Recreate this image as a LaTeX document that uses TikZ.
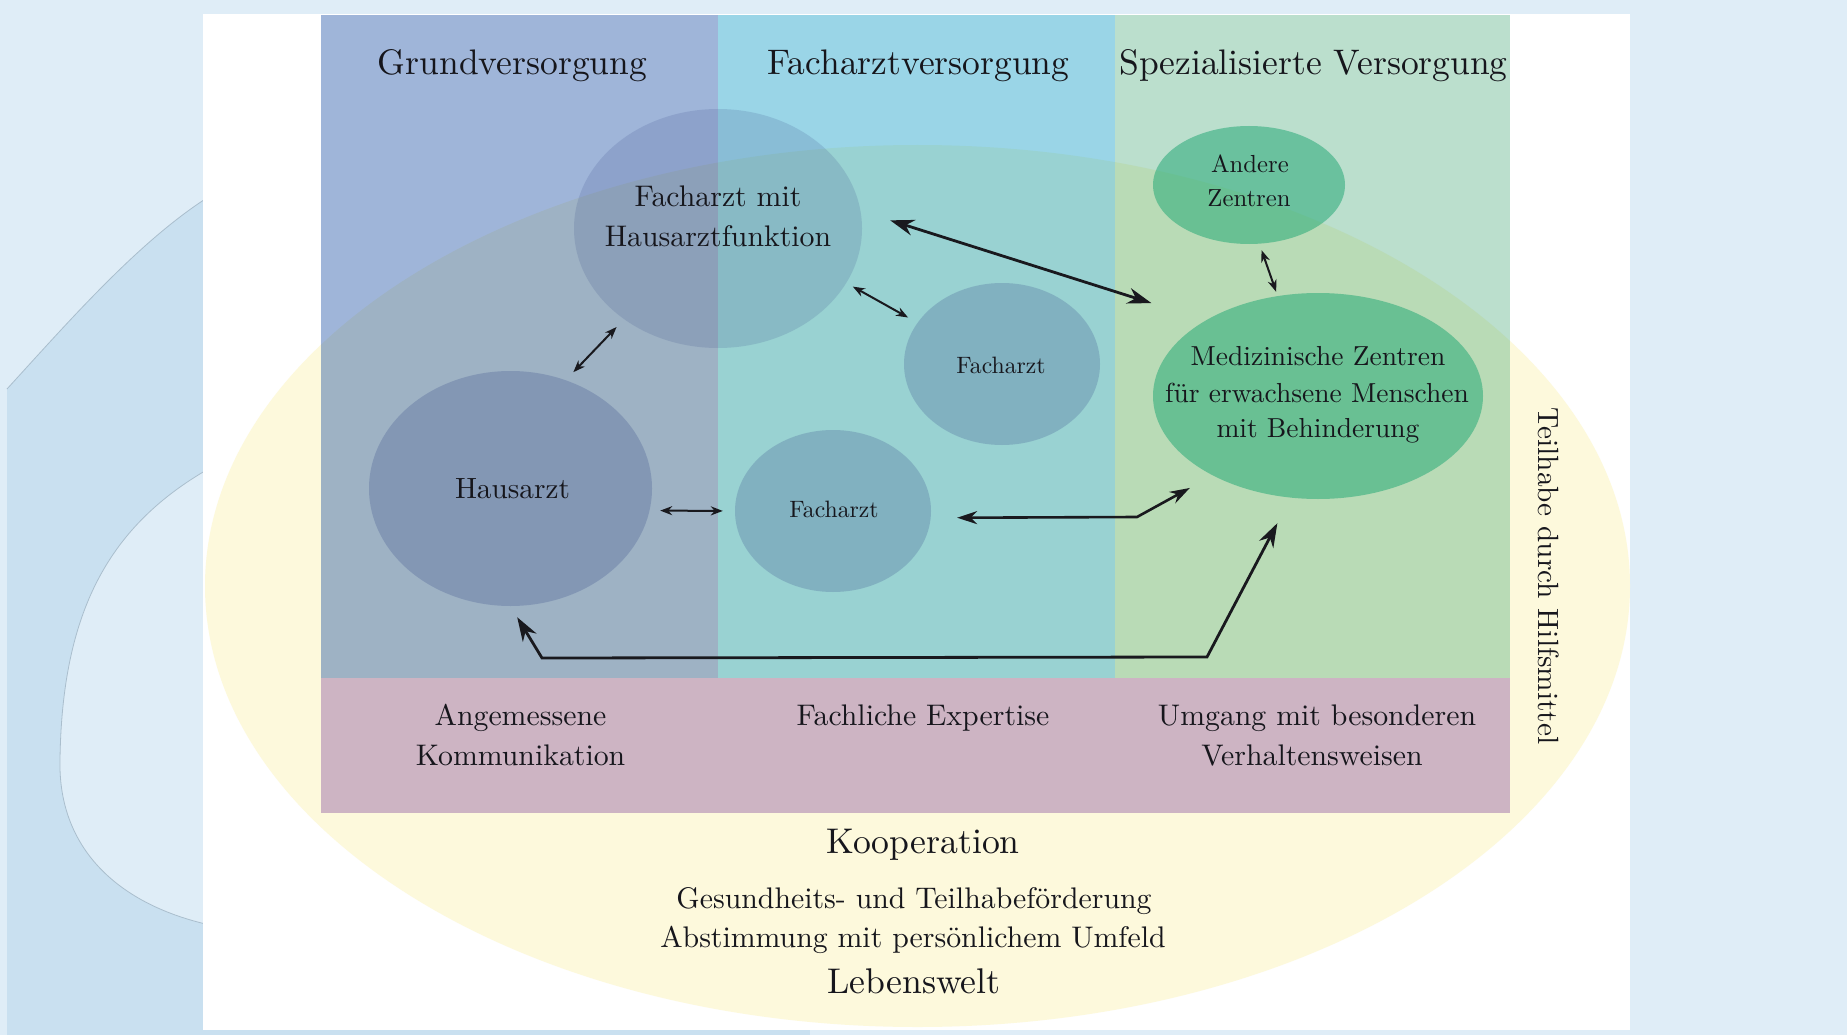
\documentclass[tikz,border=0pt]{standalone}
\usepackage{fontspec}
\setmainfont{lmroman10-regular.otf}
\usetikzlibrary{arrows.meta,shapes.geometric}
\definecolor{bglight}{RGB}{223,237,247}
\definecolor{bgdark}{RGB}{201,224,240}
\definecolor{bgedge}{RGB}{170,190,205}
\definecolor{ylw}{RGB}{253,249,220}
\definecolor{colA}{RGB}{17,72,160}
\definecolor{colB}{RGB}{3,152,195}
\definecolor{colC}{RGB}{61,164,112}
\definecolor{pinkband}{RGB}{205,180,195}
\definecolor{cblue}{RGB}{60,80,140}
\definecolor{cgreen}{RGB}{40,170,120}
\definecolor{txt}{RGB}{22,22,28}
\definecolor{arr}{RGB}{25,25,30}
\tikzset{
  blob/.style={ellipse, inner sep=0pt, draw=none},
  bluec/.style={blob, fill=cblue},
  greenc/.style={blob, fill=cgreen, fill opacity=0.55},
  lbl/.style={anchor=base, inner sep=0pt, text=txt},
  hdr/.style={lbl, font=\fontsize{35.5}{42}\selectfont},
  big/.style={lbl, font=\fontsize{35.7}{42}\selectfont},
  mid/.style={lbl, font=\fontsize{29.8}{36}\selectfont},
  arS/.style={draw=arr, line width=2pt, {Stealth[length=12pt,width=9pt]}-{Stealth[length=12pt,width=9pt]}},
  arM/.style={draw=arr, line width=2.6pt, {Stealth[length=20pt,width=13pt]}-{Stealth[length=20pt,width=13pt]}},
  arL/.style={draw=arr, line width=2.8pt, {Stealth[length=24pt,width=16pt]}-{Stealth[length=24pt,width=16pt]}},
}
\begin{document}
\begin{tikzpicture}[x=1pt,y=-1pt]
\useasboundingbox (0,0) rectangle (1847,1035);
% page background
\fill[bglight] (0,0) rectangle (1847,1035);
\fill[bgdark] (7,389) .. controls (70,320) and (140,240) .. (210,196) -- (210,1035) -- (7,1035) -- cycle;
\draw[bgedge, line width=0.8pt] (7,389) .. controls (70,320) and (140,240) .. (210,196);
\fill[bgdark] (203,1029) rectangle (810,1035);
\fill[bglight] (210,468) .. controls (110,525) and (62,610) .. (60,760) .. controls (58,850) and (120,905) .. (210,925) -- cycle;
\draw[bgedge, line width=0.8pt] (210,468) .. controls (110,525) and (62,610) .. (60,760) .. controls (58,850) and (120,905) .. (210,925);
% white panel
\fill[white] (203,14) rectangle (1630,1030);
% yellow ellipse
\begin{scope}
  \clip (203,14) rectangle (1630,1030);
  \fill[ylw] (917.5,586) ellipse [x radius=712.5, y radius=441];
\end{scope}
% columns
\fill[colA, fill opacity=0.4] (321,15) rectangle (718,678);
\fill[colB, fill opacity=0.4] (718,15) rectangle (1115,678);
\fill[colC, fill opacity=0.35] (1115,15) rectangle (1510,678);
% pink band
\fill[pinkband] (321,678) rectangle (1510,813);
% circles
\node[bluec, fill opacity=0.18, minimum width=288pt, minimum height=239pt] (haf) at (718,228.5) {};
\node[bluec, fill opacity=0.27, minimum width=283pt, minimum height=235pt] (ha) at (510.5,488.5) {};
\node[bluec, fill opacity=0.25, minimum width=196pt, minimum height=162pt] (fo) at (1002,364) {};
\node[bluec, fill opacity=0.25, minimum width=196pt, minimum height=162pt] (fu) at (833,511) {};
\node[greenc, minimum width=192pt, minimum height=118pt] (az) at (1249,185) {};
\node[greenc, minimum width=330pt, minimum height=206pt] (mz) at (1318,396) {};
% bend points
\coordinate (c1) at (1137,517);
\coordinate (c2) at (542,658);
\coordinate (c3) at (1207,657);
% connectors
\draw[arS, shorten <=11pt, shorten >=10.7pt] (ha.63) -- (haf.224);
\draw[arS, shorten <=7.4pt, shorten >=10.7pt] (haf.-23) -- (fo.154);
\draw[arS, shorten <=10.5pt, shorten >=12pt] (ha.-9) -- (fu.180);
\draw[arS, shorten <=6.7pt, shorten >=4.4pt] (az.-80) -- (mz.112);
\draw[arL, shorten <=31pt, shorten >=57pt] (haf.7) -- (mz.146);
\draw[arM, shorten <=26.3pt, shorten >=26pt] (fu.-4) -- (c1) -- (mz.217);
\draw[arL, shorten <=12.9pt, shorten >=28.7pt] (ha.-90) -- (c2) -- (c3) -- (mz.255);
% headers
\node[hdr] (t1) at (512.5,75) {Grundversorgung};
\node[hdr] (t2) at (918.5,75) {Facharztversorgung};
\node[hdr] (t3) at (1313.5,75) {Spezialisierte Versorgung};
% circle texts
\node[lbl, font=\fontsize{29.8}{36}\selectfont] (l1) at (718,207) {Facharzt mit};
\node[lbl, font=\fontsize{29.8}{36}\selectfont] (l2) at (718,247) {Hausarztfunktion};
\node[lbl, font=\fontsize{29.3}{36}\selectfont] (l3) at (512.5,498) {Hausarzt};
\node[lbl, font=\fontsize{23.7}{30}\selectfont] (l4) at (1001,373) {Facharzt};
\node[lbl, font=\fontsize{23.7}{30}\selectfont] (l5) at (834,517) {Facharzt};
\node[lbl, font=\fontsize{24.7}{30}\selectfont] (l6) at (1250,173) {Andere};
\node[lbl, font=\fontsize{24.7}{30}\selectfont] (l7) at (1249,207) {Zentren};
\node[lbl, font=\fontsize{27.5}{34}\selectfont] (l8) at (1318,365) {Medizinische Zentren};
\node[lbl, font=\fontsize{27.5}{34}\selectfont] (l9) at (1317,402) {für erwachsene Menschen};
\node[lbl, font=\fontsize{27.5}{34}\selectfont] (l10) at (1318,437) {mit Behinderung};
% band texts
\node[mid] (b1) at (520.5,725) {Angemessene};
\node[mid] (b2) at (520.5,765) {Kommunikation};
\node[mid] (b3) at (923,725) {Fachliche Expertise};
\node[mid] (b4) at (1317,725) {Umgang mit besonderen};
\node[mid] (b5) at (1312,765) {Verhaltensweisen};
% bottom texts
\node[big] (k1) at (923,853) {Kooperation};
\node[mid] (k2) at (914,908) {Gesundheits- und Teilhabeförderung};
\node[mid] (k3) at (913,947) {Abstimmung mit persönlichem Umfeld};
\node[big] (k4) at (914,993) {Lebenswelt};
% vertical text
\node[inner sep=0pt, text=txt, rotate=-90, font=\fontsize{29.3}{36}\selectfont] (v1) at (1549,576) {Teilhabe durch Hilfsmittel};
\end{tikzpicture}
\end{document}
